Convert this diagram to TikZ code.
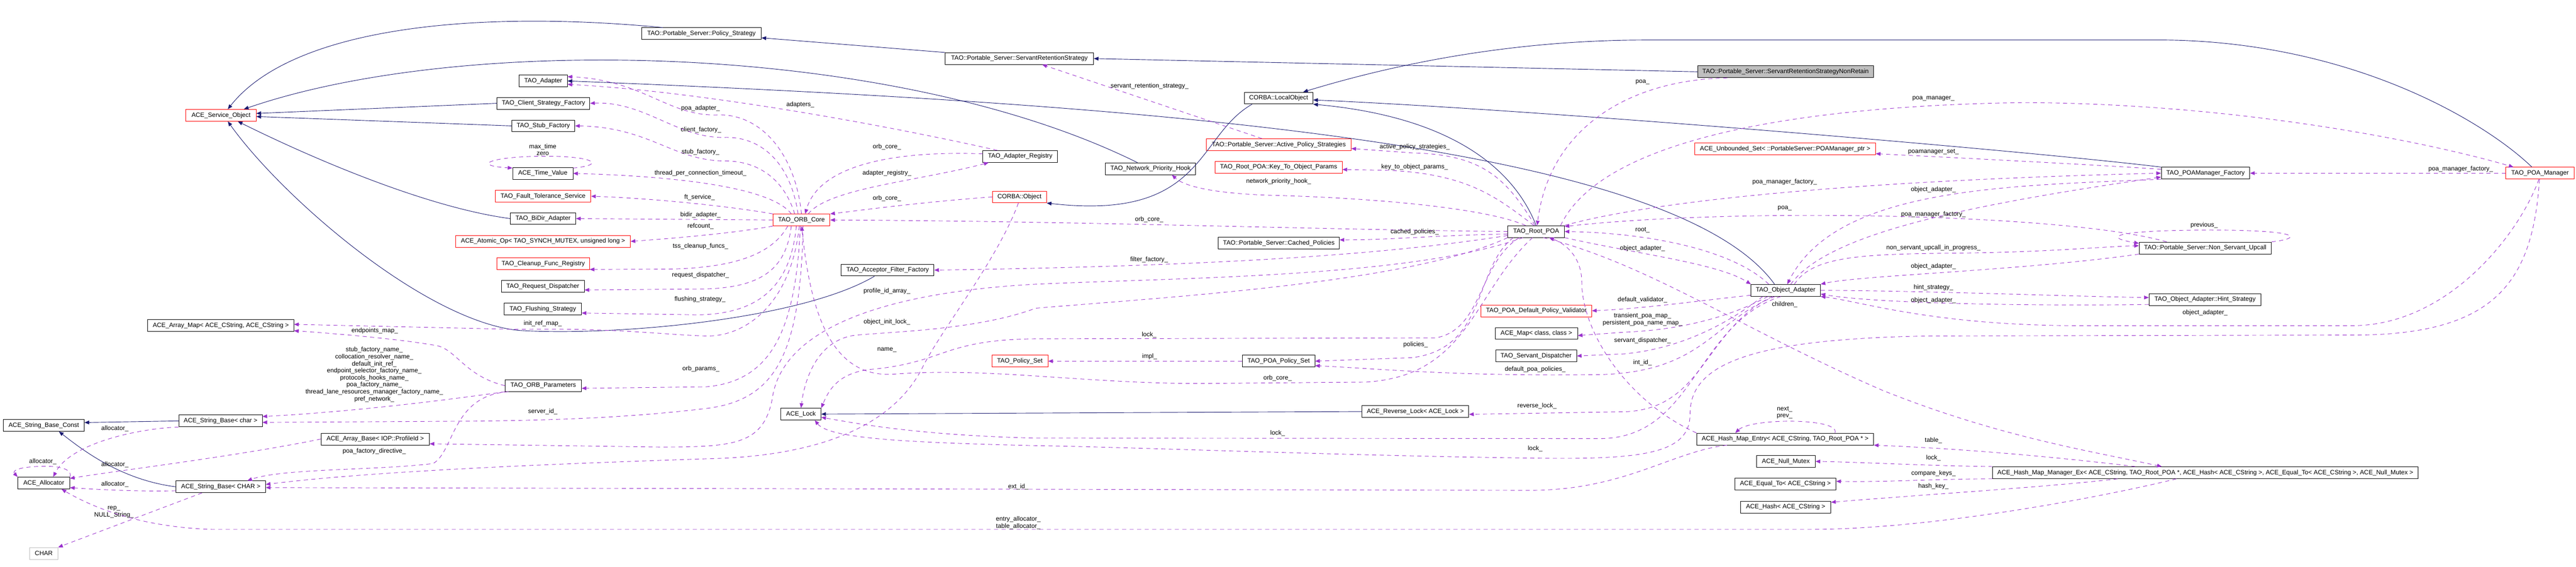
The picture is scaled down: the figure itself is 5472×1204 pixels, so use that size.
\documentclass[tikz,border=0pt]{standalone}
\usepackage{fontspec}
\setmainfont{Liberation Sans}
\usetikzlibrary{arrows.meta}
\definecolor{inhcol}{HTML}{191970}
\definecolor{memcol}{HTML}{9A32CD}
\definecolor{maingray}{HTML}{BFBFBF}
\tikzset{
  cls/.style={draw=black,fill=white,line width=0.75pt,minimum height=18.75pt,inner xsep=3pt,inner ysep=0pt,font=\fontsize{10pt}{12pt}\selectfont},
  clsred/.style={cls,draw=red},
  clsgray/.style={cls,draw=maingray},
  clsmain/.style={cls,fill=maingray},
  inh/.style={draw=inhcol,line width=0.75pt,-{Triangle[length=7.5pt,width=6pt]}},
  mem/.style={draw=memcol,line width=0.75pt,dash pattern=on 6.5pt off 5.5pt,-{Triangle[length=7.5pt,width=6pt]}},
  lbl/.style={font=\fontsize{10pt}{11.2pt}\selectfont,inner sep=0pt,align=center,text=black}
}
\begin{document}
\begin{tikzpicture}[x=0.75pt,y=-0.75pt]
\useasboundingbox (0,0) rectangle (5472,1204);
\node[clsred, minimum width=111.75pt] (svcobj) at (469.5,245) {ACE\_Service\_Object};
\node[cls, minimum width=190.5pt] (policystrat) at (1490,71.5) {TAO::Portable\_Server::Policy\_Strategy};
\node[cls, minimum width=236.25pt] (srs) at (2165.5,124.5) {TAO::Portable\_Server::ServantRetentionStrategy};
\node[clsmain, minimum width=280.5pt] (srsnr) at (3793,152.5) {TAO::Portable\_Server::ServantRetentionStrategyNonRetain};
\node[cls, minimum width=109.5pt] (localobj) at (2716,208.5) {CORBA::LocalObject};
\node[cls, minimum width=76.5pt] (adapter) at (1154,172) {TAO\_Adapter};
\node[cls, minimum width=147.75pt] (clientfac) at (1154.5,219.5) {TAO\_Client\_Strategy\_Factory};
\node[cls, minimum width=100.5pt] (stubfac) at (1154,267.5) {TAO\_Stub\_Factory};
\node[cls, minimum width=96pt] (timevalue) at (1153,368.5) {ACE\_Time\_Value};
\node[clsred, minimum width=152.25pt] (ftservice) at (1153.5,417) {TAO\_Fault\_Tolerance\_Service};
\node[cls, minimum width=104.25pt] (bidir) at (1153.5,464.5) {TAO\_BiDir\_Adapter};
\node[clsred, minimum width=278.25pt] (atomicop) at (1153.5,513) {ACE\_Atomic\_Op< TAO\_SYNCH\_MUTEX, unsigned long >};
\node[clsred, minimum width=147pt] (cleanup) at (1154,560.5) {TAO\_Cleanup\_Func\_Registry};
\node[cls, minimum width=132pt] (reqdisp) at (1153,608.5) {TAO\_Request\_Dispatcher};
\node[cls, minimum width=123pt] (flushing) at (1153,656.5) {TAO\_Flushing\_Strategy};
\node[cls, minimum width=121.5pt] (orbparams) at (1154,819.5) {TAO\_ORB\_Parameters};
\node[clsred, minimum width=90.75pt] (orbcore) at (1702.5,467.5) {TAO\_ORB\_Core};
\node[cls, minimum width=118.5pt] (adapterreg) at (2167,332.5) {TAO\_Adapter\_Registry};
\node[clsred, minimum width=86.25pt] (corbaobj) at (2165.5,418.5) {CORBA::Object};
\node[cls, minimum width=147.75pt] (acceptorff) at (1885.5,574) {TAO\_Acceptor\_Filter\_Factory};
\node[cls, minimum width=232.5pt] (arraymap) at (469,692) {ACE\_Array\_Map< ACE\_CString, ACE\_CString >};
\node[cls, minimum width=129pt] (strconst) at (93,904) {ACE\_String\_Base\_Const};
\node[cls, minimum width=132.75pt] (strchar) at (468.5,894.5) {ACE\_String\_Base< char >};
\node[cls, minimum width=172.5pt] (arraybase) at (797,933) {ACE\_Array\_Base< IOP::ProfileId >};
\node[cls, minimum width=82.5pt] (allocator) at (93,1026.5) {ACE\_Allocator};
\node[cls, minimum width=142.5pt] (strCHAR) at (469,1034.5) {ACE\_String\_Base< CHAR >};
\node[clsgray, minimum width=45pt] (charnode) at (93,1176) {CHAR};
\node[cls, minimum width=63.75pt] (acelock) at (1701.5,880) {ACE\_Lock};
\node[clsred, minimum width=89.25pt] (policyset) at (2166.5,767.5) {TAO\_Policy\_Set};
\node[cls, minimum width=144pt] (netprio) at (2444,358.5) {TAO\_Network\_Priority\_Hook};
\node[clsred, minimum width=230.25pt] (aps) at (2716.5,307.5) {TAO::Portable\_Server::Active\_Policy\_Strategies};
\node[clsred, minimum width=202.5pt] (keyparams) at (2716,355.5) {TAO\_Root\_POA::Key\_To\_Object\_Params};
\node[cls, minimum width=192.75pt] (cached) at (2716.5,516.5) {TAO::Portable\_Server::Cached\_Policies};
\node[cls, minimum width=90pt] (rootpoa) at (3263,492) {TAO\_Root\_POA};
\node[clsred, minimum width=176.25pt] (validator) at (3263.5,660.5) {TAO\_POA\_Default\_Policy\_Validator};
\node[cls, minimum width=131.25pt] (acemap) at (3263.5,708.5) {ACE\_Map< class, class >};
\node[cls, minimum width=129pt] (servdisp) at (3263,756.5) {TAO\_Servant\_Dispatcher};
\node[cls, minimum width=115.5pt] (poapolicyset) at (2716,767.5) {TAO\_POA\_Policy\_Set};
\node[cls, minimum width=170.25pt] (revlock) at (3006.5,874.5) {ACE\_Reverse\_Lock< ACE\_Lock >};
\node[clsred, minimum width=288pt] (unbounded) at (3792,316.5) {ACE\_Unbounded\_Set< ::PortableServer::POAManager\_ptr >};
\node[cls, minimum width=111pt] (objadapter) at (3793,617) {TAO\_Object\_Adapter};
\node[cls, minimum width=282pt] (hashentry) at (3792,933) {ACE\_Hash\_Map\_Entry< ACE\_CString, TAO\_Root\_POA * >};
\node[cls, minimum width=93.75pt] (nullmutex) at (3793.5,980.5) {ACE\_Null\_Mutex};
\node[cls, minimum width=161.25pt] (equalto) at (3792.5,1028.5) {ACE\_Equal\_To< ACE\_CString >};
\node[cls, minimum width=144pt] (hashnode) at (3793,1077.5) {ACE\_Hash< ACE\_CString >};
\node[cls, minimum width=677.25pt] (mgrex) at (4684.5,1004.5) {ACE\_Hash\_Map\_Manager\_Ex< ACE\_CString, TAO\_Root\_POA *, ACE\_Hash< ACE\_CString >, ACE\_Equal\_To< ACE\_CString >, ACE\_Null\_Mutex >};
\node[cls, minimum width=141pt] (poamgrfac) at (4685,368) {TAO\_POAManager\_Factory};
\node[clsred, minimum width=108.75pt] (poamanager) at (5395.5,368) {TAO\_POA\_Manager};
\node[cls, minimum width=210.75pt] (nsu) at (4684.5,527) {TAO::Portable\_Server::Non\_Servant\_Upcall};
\node[cls, minimum width=178.5pt] (hint) at (4684,636.5) {TAO\_Object\_Adapter::Hint\_Strategy};
\draw[inh] (policystrat.171) .. controls (1000,20) and (620,60) .. (svcobj.42);
\draw[inh] (netprio.155) .. controls (1900,90) and (988,70) .. (svcobj.15);
\draw[inh] (clientfac.west) -- (svcobj.3);
\draw[inh] (stubfac.west) -- (svcobj.-2);
\draw[inh] (bidir.west) .. controls (900,440) and (650,330) .. (svcobj.-20);
\draw[inh] (acceptorff.-155) .. controls (1700,680) and (1300,715) .. (1100,702) .. controls (900,680) and (600,420) .. (svcobj.-42);
\draw[inh] (objadapter.151) .. controls (3550,300) and (2400,220) .. (adapter.east);
\draw[inh] (srs.north west) -- (policystrat.-4);
\draw[inh] (srsnr.west) -- (srs.east);
\draw[inh] (poamanager.143) .. controls (5280,260) and (5000,90) .. (4600,85) -- (3500,85) .. controls (3200,85) and (2950,140) .. (localobj.14);
\draw[inh] (poamgrfac.north west) .. controls (4300,320) and (3300,235) .. (localobj.-3);
\draw[inh] (rootpoa.north) .. controls (3220,370) and (3100,250) .. (localobj.south east);
\draw[inh] (localobj.-167) .. controls (2540,290) and (2560,470) .. (corbaobj.south east);
\draw[inh] (revlock.west) -- (acelock.east);
\draw[inh] (strchar.west) -- (strconst.4);
\draw[inh] (strCHAR.west) .. controls (260,1020) and (180,960) .. (strconst.-22);
\draw[mem] (orbcore.90) .. controls (1690,330) and (1620,245) .. (1530,244) .. controls (1420,250) and (1370,170) .. (adapter.10) node[lbl] at (1488,230) {poa\_adapter\_};
\draw[mem] (adapterreg.165) .. controls (1900,270) and (1500,195) .. (adapter.-8) node[lbl] at (1700,222) {adapters\_};
\draw[mem] (orbcore.119) .. controls (1680,350) and (1620,290) .. (1540,292) .. controls (1440,295) and (1370,215) .. (clientfac.east) node[lbl] at (1489,276) {client\_factory\_};
\draw[mem] (orbcore.138) .. controls (1665,380) and (1610,342) .. (1540,342) .. controls (1430,342) and (1380,270) .. (stubfac.east) node[lbl] at (1488,323) {stub\_factory\_};
\draw[mem] (orbcore.149) .. controls (1640,400) and (1450,375) .. (timevalue.east) node[lbl] at (1488,368) {thread\_per\_connection\_timeout\_};
\draw[mem] (timevalue.10) .. controls (1290,350) and (1260,332) .. (1160,332) .. controls (1040,332) and (1000,352) .. (timevalue.170) node[lbl] at (1153,318) {max\_time\\zero};
\draw[mem] (orbcore.north west) .. controls (1560,440) and (1400,422) .. (ftservice.east) node[lbl] at (1486,419) {ft\_service\_};
\draw[mem] (orbcore.west) -- (bidir.east) node[lbl] at (1488,457) {bidir\_adapter\_};
\draw[mem] (orbcore.south west) .. controls (1560,495) and (1450,505) .. (atomicop.east) node[lbl] at (1488,481) {refcount\_};
\draw[mem] (orbcore.-156) .. controls (1640,540) and (1560,572) .. (1400,572) -- (cleanup.-7) node[lbl] at (1488,523) {tss\_cleanup\_funcs\_};
\draw[mem] (orbcore.-149) .. controls (1670,570) and (1620,610) .. (1500,614) -- (reqdisp.-5) node[lbl] at (1488,585) {request\_dispatcher\_};
\draw[mem] (orbcore.-130) .. controls (1680,600) and (1620,668) .. (1480,669) -- (flushing.-6) node[lbl] at (1487,636) {flushing\_strategy\_};
\draw[mem] (orbcore.-110) .. controls (1680,650) and (1580,716) .. (1500,714) .. controls (1420,712) and (1300,696) .. (1100,700) -- (arraymap.1) node[lbl] at (1153,688) {init\_ref\_map\_};
\draw[mem] (orbcore.-100) .. controls (1690,700) and (1640,810) .. (1500,822) -- (orbparams.-4) node[lbl] at (1489,784) {orb\_params\_};
\draw[mem] (orbcore.-75) .. controls (1700,750) and (1650,850) .. (1500,868) .. controls (1350,886) and (1200,893) .. (1000,895) -- (strchar.-2) node[lbl] at (1153,875) {server\_id\_};
\draw[mem] (orbparams.west) .. controls (990,800) and (970,745) .. (930,735) .. controls (850,720) and (700,708) .. (arraymap.-4) node[lbl] at (796,703) {endpoints\_map\_};
\draw[mem] (orbparams.south west) .. controls (950,850) and (750,875) .. (strchar.6) node[lbl] at (795,796) {stub\_factory\_name\_\\collocation\_resolver\_name\_\\default\_init\_ref\_\\endpoint\_selector\_factory\_name\_\\protocols\_hooks\_name\_\\poa\_factory\_name\_\\thread\_lane\_resources\_manager\_factory\_name\_\\pref\_network\_};
\draw[mem] (orbparams.-170) .. controls (960,840) and (965,960) .. (920,985) .. controls (800,1000) and (600,995) .. (strCHAR.13) node[lbl] at (795,959) {poa\_factory\_directive\_};
\draw[mem] (strchar.south west) .. controls (300,910) and (150,940) .. (allocator.33) node[lbl] at (244,911) {allocator\_};
\draw[mem] (allocator.north east) .. controls (155,995) and (120,990) .. (90,991) .. controls (40,992) and (25,1000) .. (allocator.north west) node[lbl] at (91,981) {allocator\_};
\draw[mem] (arraybase.west) .. controls (500,970) and (250,1000) .. (allocator.10) node[lbl] at (244,988) {allocator\_};
\draw[mem] (strCHAR.-175) .. controls (300,1045) and (200,1040) .. (allocator.-10) node[lbl] at (244,1029) {allocator\_};
\draw[mem] (strCHAR.-162) -- (charnode.north east) node[lbl] at (242,1088) {rep\_\\NULL\_String\_};
\draw[mem] (mgrex.-168) .. controls (4450,1060) and (4100,1124) .. (3850,1125) -- (450,1125) .. controls (300,1120) and (200,1080) .. (allocator.-19) node[lbl] at (2163,1111) {entry\_allocator\_\\table\_allocator\_};
\draw[mem] (hashentry.-174) .. controls (3550,960) and (3450,1042) .. (3250,1042) -- (strCHAR.-1) node[lbl] at (2163,1034) {ext\_id\_};
\draw[mem] (hashentry.7) .. controls (3910,888) and (3720,888) .. (hashentry.173) node[lbl] at (3791,877) {next\_\\prev\_};
\draw[mem] (hashentry.north west) .. controls (3450,850) and (3360,700) .. (3360,600) .. controls (3360,550) and (3330,520) .. (rootpoa.-25) node[lbl] at (3489,771) {int\_id\_};
\draw[mem] (mgrex.175) .. controls (4400,975) and (4200,955) .. (hashentry.south east) node[lbl] at (4107,936) {table\_};
\draw[mem] (mgrex.north west) .. controls (4100,990) and (3950,982) .. (nullmutex.east) node[lbl] at (4107,973) {lock\_};
\draw[mem] (mgrex.south west) .. controls (4100,1018) and (4000,1025) .. (equalto.3) node[lbl] at (4107,1006) {compare\_keys\_};
\draw[mem] (mgrex.-176) .. controls (4350,1035) and (4100,1050) .. (hashnode.6) node[lbl] at (4107,1034) {hash\_key\_};
\draw[mem] (rootpoa.-40) .. controls (3500,560) and (3700,700) .. (4000,830) .. controls (4250,930) and (4450,960) .. (mgrex.172) node[lbl] at (3791,647) {children\_};
\draw[mem] (objadapter.east) .. controls (4100,618) and (4400,630) .. (hint.178) node[lbl] at (4107,611) {hint\_strategy\_};
\draw[mem] (hint.-175) .. controls (4400,650) and (4000,648) .. (objadapter.-6) node[lbl] at (4107,638) {object\_adapter\_};
\draw[mem] (poamanager.-100) .. controls (5350,500) and (5200,690) .. (5000,692) -- (4400,692) .. controls (4100,690) and (3950,640) .. (objadapter.south east) node[lbl] at (4684,665) {object\_adapter\_};
\draw[mem] (poamanager.-95) .. controls (5380,600) and (5300,712) .. (5000,712) -- (4100,714) .. controls (3700,720) and (3590,780) .. (3590,880) .. controls (3590,960) and (3500,975) .. (3300,974) .. controls (2900,970) and (2400,950) .. (2200,947) .. controls (1900,940) and (1760,930) .. (acelock.-24) node[lbl] at (3261,954) {lock\_};
\draw[mem] (nsu.south west) .. controls (4300,575) and (3950,585) .. (objadapter.north east) node[lbl] at (4107,566) {object\_adapter\_};
\draw[mem] (objadapter.35) .. controls (3850,545) and (3950,540) .. (4150,538) .. controls (4350,536) and (4450,525) .. (nsu.178) node[lbl] at (4107,527) {non\_servant\_upcall\_in\_progress\_};
\draw[mem] (nsu.north east) .. controls (4900,505) and (4880,488) .. (4680,489) .. controls (4480,490) and (4470,505) .. (nsu.176) node[lbl] at (4682,479) {previous\_};
\draw[mem] (objadapter.50) .. controls (3880,500) and (4150,440) .. (poamgrfac.-175) node[lbl] at (4107,456) {poa\_manager\_factory\_};
\draw[mem] (poamgrfac.south west) .. controls (4250,395) and (3900,400) .. (objadapter.75) node[lbl] at (4107,403) {object\_adapter\_};
\draw[mem] (poamgrfac.175) .. controls (4450,350) and (4150,335) .. (unbounded.-3) node[lbl] at (4107,323) {poamanager\_set\_};
\draw[mem] (poamanager.west) -- (poamgrfac.east) node[lbl] at (5227,359) {poa\_manager\_factory\_};
\draw[mem] (rootpoa.14) .. controls (3400,300) and (3800,225) .. (4300,218) .. controls (4750,220) and (5150,300) .. (poamanager.167) node[lbl] at (4107,210) {poa\_manager\_};
\draw[mem] (rootpoa.north east) .. controls (3500,430) and (3900,385) .. (poamgrfac.west) node[lbl] at (3791,387) {poa\_manager\_factory\_};
\draw[mem] (rootpoa.south east) .. controls (3480,540) and (3650,560) .. (objadapter.170) node[lbl] at (3489,528) {object\_adapter\_};
\draw[mem] (objadapter.160) .. controls (3680,530) and (3500,495) .. (rootpoa.east) node[lbl] at (3489,489) {root\_};
\draw[mem] (nsu.171) .. controls (4400,455) and (3700,440) .. (rootpoa.10) node[lbl] at (3791,443) {poa\_};
\draw[mem] (srsnr.-174) .. controls (3450,170) and (3290,280) .. (rootpoa.80) node[lbl] at (3489,175) {poa\_};
\draw[mem] (aps.160) -- (srs.-15) node[lbl] at (2442,183) {servant\_retention\_strategy\_};
\draw[mem] (rootpoa.100) .. controls (3200,380) and (3150,328) .. (3000,325) -- (aps.-3) node[lbl] at (3005,312) {active\_policy\_strategies\_};
\draw[mem] (rootpoa.110) .. controls (3180,420) and (3120,370) .. (2950,362) -- (keyparams.-2) node[lbl] at (3005,355) {key\_to\_object\_params\_};
\draw[mem] (rootpoa.150) .. controls (3150,440) and (2900,420) .. (2700,415) .. controls (2600,412) and (2520,400) .. (netprio.-16) node[lbl] at (2716,386) {network\_priority\_hook\_};
\draw[mem] (rootpoa.west) .. controls (2800,488) and (2300,470) .. (orbcore.east) node[lbl] at (2441,466) {orb\_core\_};
\draw[mem] (rootpoa.-175) .. controls (3050,500) and (2950,510) .. (cached.3) node[lbl] at (3005,493) {cached\_policies\_};
\draw[mem] (rootpoa.-172) .. controls (2950,540) and (2600,565) .. (acceptorff.east) node[lbl] at (2441,552) {filter\_factory\_};
\draw[mem] (rootpoa.south west) .. controls (3000,600) and (2500,630) .. (2200,655) .. controls (2080,700) and (1900,705) .. (1820,712) .. controls (1740,720) and (1710,800) .. (acelock.north) node[lbl] at (1884,684) {object\_init\_lock\_};
\draw[mem] (rootpoa.-160) .. controls (3140,560) and (3150,700) .. (3050,718) -- (2200,720) .. controls (2000,722) and (2010,770) .. (1850,785) .. controls (1780,792) and (1760,830) .. (acelock.north east) node[lbl] at (2441,712) {lock\_};
\draw[mem] (rootpoa.-165) .. controls (3130,570) and (3160,740) .. (3000,760) -- (poapolicyset.east) node[lbl] at (3007,732) {policies\_};
\draw[mem] (rootpoa.-155) .. controls (3000,590) and (2500,590) .. (2200,604) .. controls (1900,620) and (1660,690) .. (1640,850) .. controls (1620,945) and (1560,950) .. (1400,950) -- (arraybase.-5) node[lbl] at (1884,619) {profile\_id\_array\_};
\draw[mem] (rootpoa.-120) .. controls (3130,620) and (3120,800) .. (2900,812) -- (2550,815) .. controls (2300,815) and (2100,780) .. (1900,795) .. controls (1760,806) and (1720,650) .. (orbcore.-88) node[lbl] at (2714,804) {orb\_core\_};
\draw[mem] (corbaobj.-100) .. controls (2120,550) and (2000,700) .. (1960,780) .. controls (1900,900) and (1750,970) .. (1500,975) .. controls (1200,985) and (800,1000) .. (strCHAR.3) node[lbl] at (1884,744) {name\_};
\draw[mem] (corbaobj.west) .. controls (1950,430) and (1820,448) .. (orbcore.north east) node[lbl] at (1884,422) {orb\_core\_};
\draw[mem] (adapterreg.176) .. controls (1900,320) and (1740,350) .. (orbcore.59) node[lbl] at (1884,312) {orb\_core\_};
\draw[mem] (orbcore.42) .. controls (1760,400) and (1950,385) .. (adapterreg.-169) node[lbl] at (1884,368) {adapter\_registry\_};
\draw[mem] (poapolicyset.west) -- (policyset.east) node[lbl] at (2442,758) {impl\_};
\draw[mem] (objadapter.-172) .. controls (3600,640) and (3500,655) .. (validator.east) node[lbl] at (3489,637) {default\_validator\_};
\draw[mem] (objadapter.-161) .. controls (3700,660) and (3600,700) .. (3450,706) -- (acemap.-3) node[lbl] at (3489,679) {transient\_poa\_map\_\\persistent\_poa\_name\_map\_};
\draw[mem] (objadapter.-165) .. controls (3680,680) and (3580,740) .. (3450,752) -- (servdisp.east) node[lbl] at (3489,724) {servant\_dispatcher\_};
\draw[mem] (objadapter.-150) .. controls (3640,680) and (3620,790) .. (3400,796) .. controls (3100,800) and (2950,785) .. (poapolicyset.-7) node[lbl] at (3261,785) {default\_poa\_policies\_};
\draw[mem] (objadapter.-155) .. controls (3620,700) and (3620,870) .. (3450,875) -- (revlock.-3) node[lbl] at (3265,863) {reverse\_lock\_};
\draw[mem] (objadapter.-128) .. controls (3600,690) and (3600,930) .. (3400,932) -- (2200,931) .. controls (1950,925) and (1820,900) .. (acelock.-9) node[lbl] at (2714,921) {lock\_};
\end{tikzpicture}
\end{document}
